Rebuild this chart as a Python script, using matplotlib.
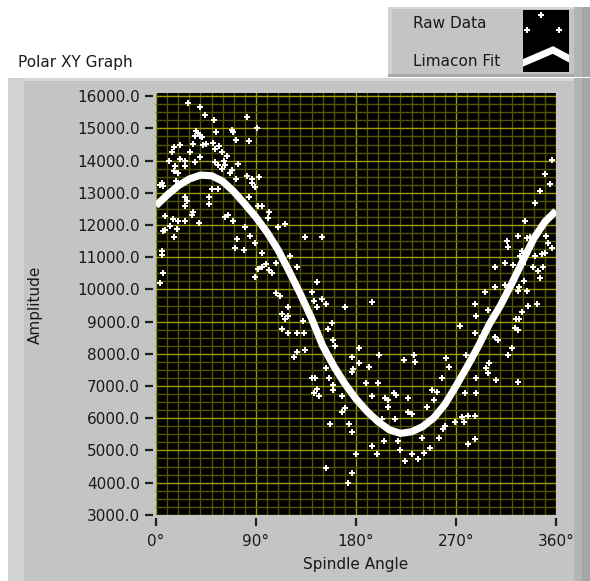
import matplotlib.pyplot as plt
import matplotlib.patches as mpatches
import numpy as np

# raw data (angle in degrees, amplitude)
raw_angle = [29, 40, 44, 52, 82, 91, 54, 68, 69, 36, 38, 40, 41, 35, 33, 42, 45, 51, 53, 57,
             59, 72, 84, 22, 16, 14, 31, 12, 22, 26, 17, 20, 16, 40, 35, 53, 56, 61, 62, 59,
             68, 67, 74, 64, 26, 5, 4, 6, 18, 50, 56, 72, 82, 86, 93, 86, 89, 26, 28, 48,
             48, 26, 33, 32, 77, 84, 92, 95, 102, 101, 65, 62, 69, 8, 15, 20, 26, 39, 13, 8,
             6, 19, 16, 80, 110, 116, 73, 85, 89, 71, 79, 95, 5, 5, 121, 99, 95, 102, 108, 127,
             92, 104, 89, 6, 4, 134, 149,
             356, 350, 355, 346, 341, 332, 326, 334, 337, 316, 317, 351, 353, 356, 329, 328, 341, 347, 350, 314,
             305, 321, 330, 339, 344, 348, 346, 331, 305, 314, 327,
             108, 112, 145, 140, 142, 149, 153, 145, 119, 113, 119, 116, 132, 158, 170, 194, 113, 119, 127, 133,
             155, 159, 161, 134, 127, 124, 183, 176, 201, 183, 192, 177, 176, 153, 156, 140, 143, 159, 159, 145,
             142, 147, 167, 189, 200, 194, 170, 167, 157, 174, 176, 203, 194, 199, 180, 153, 176, 173,
             326, 334, 296, 287, 288, 299, 335, 343, 329, 324, 327, 274, 323, 326, 287, 305, 308, 293, 320, 317,
             279, 300, 297, 299, 306, 326, 288, 284, 261, 264, 257, 232, 233, 223, 248, 253, 250, 244, 214, 216,
             206, 209, 227, 209, 227, 230, 215, 278, 288, 275, 281, 287, 277, 269, 260, 258, 255, 239, 247, 287,
             281, 205, 218, 220, 230, 241, 236, 224]
raw_amp = [15790, 15680, 15420, 15270, 15370, 15000, 14900, 14950, 14880, 14910, 14850, 14770, 14720, 14750, 14510, 14490, 14510, 14550, 14360, 14460,
           14260, 14650, 14600, 14490, 14410, 14260, 14260, 14000, 14050, 14000, 13840, 13630, 13690, 14100, 13950, 13950, 13870, 14000, 13870, 13740,
           13720, 13610, 13910, 14150, 13840, 13320, 13250, 13200, 13380, 13120, 13120, 13430, 13530, 13430, 13500, 13290, 13190, 12860, 12750, 12860,
           12650, 12600, 12390, 12320, 12700, 12860, 12600, 12600, 12390, 12220, 12320, 12240, 12130, 12290, 12190, 12130, 12130, 12060, 11980, 11840,
           11800, 11880, 11620, 11950, 11930, 12030, 11560, 11650, 11430, 11290, 11220, 11120, 11200, 11080, 11030, 10790, 10690, 10610, 10820, 10710,
           10630, 10510, 10400, 10500, 10190, 11620, 11620,
           14020, 13580, 13270, 13070, 12680, 12110, 11650, 11600, 11620, 11490, 11330, 11650, 11430, 11290, 11180, 11030, 11050, 11100, 11120, 10810,
           10710, 10770, 10790, 10690, 10580, 10690, 10350, 10270, 10080, 10150, 10080,
           9880, 9800, 10220, 9910, 9650, 9700, 9540, 9440, 9440, 9250, 9180, 9080, 9030, 8950, 9440, 9600, 8770, 8640, 8640, 8640,
           8770, 8440, 8230, 8130, 8060, 7910, 8180, 7910, 7970, 7710, 7600, 7530, 7450, 7560, 7240, 7240, 7240, 7040, 6870, 6900,
           6770, 6700, 6700, 7080, 7080, 6700, 6310, 6180, 5820, 5820, 5560, 5970, 5150, 4890, 4890, 4450, 4300, 3990,
           9960, 9960, 9910, 9540, 9180, 9360, 9490, 9540, 9290, 9080, 9080, 8870, 8800, 8740, 8660, 8510, 8440, 8540, 8180, 7970,
           7970, 7700, 7550, 7400, 7180, 7140, 7240, 7810, 7870, 7600, 7240, 7960, 7760, 7820, 6870, 6830, 6560, 6340, 6780, 6730,
           6620, 6560, 6620, 6340, 6180, 6130, 5970, 6770, 6770, 6030, 6080, 6080, 5870, 5870, 5770, 5660, 5400, 5400, 5090, 5350,
           5200, 5300, 5300, 5020, 4890, 4920, 4730, 4660]

# limacon fit, read every 10 degrees
fit_angle = list(range(0, 361, 10))
fit_amp = [12600, 12930, 13220, 13430, 13550, 13530, 13360, 13040, 12650, 12240,
           11770, 11220, 10550, 9850, 9100, 8250, 7620, 7070, 6600, 6210,
           5890, 5640, 5530, 5580, 5740, 6010, 6430, 7000, 7600, 8230,
           8920, 9500, 10170, 10880, 11580, 12100, 12440]

W, H = 590, 581
fig = plt.figure(figsize=(W / 100, H / 100), dpi=100)
fig.patch.set_facecolor('white')
plt.rcParams['font.family'] = 'DejaVu Sans'
txt = '#1a1a1a'


def box(x0, y0, x1, y1, color, z=0):
    r = mpatches.Rectangle((x0 / W, 1 - y1 / H), (x1 - x0) / W, (y1 - y0) / H,
                           transform=fig.transFigure, facecolor=color, edgecolor='none', zorder=z)
    fig.add_artist(r)


# graph panel
box(8, 78, 590, 581, '#c4c4c4')
box(8, 78, 590, 81, '#d8d8d8')
box(8, 78, 24, 581, '#d2d2d2')
box(574, 78, 590, 581, '#b4b4b4')
box(582, 78, 590, 581, '#a6a6a6')
# legend panel
box(388, 7, 590, 77, '#c4c4c4')
box(388, 7, 590, 9, '#d8d8d8')
box(388, 7, 392, 77, '#d2d2d2')
box(388, 74, 590, 77, '#a8a8a8')
box(574, 7, 590, 77, '#b4b4b4')
box(582, 7, 590, 77, '#a6a6a6')

fig.text(18 / W, 1 - 63 / H, 'Polar XY Graph', fontsize=11, color=txt, va='center', ha='left')
fig.text(413 / W, 1 - 24 / H, 'Raw Data', fontsize=11, color=txt, va='center', ha='left')
fig.text(413 / W, 1 - 62 / H, 'Limacon Fit', fontsize=11, color=txt, va='center', ha='left')

# legend icons
lx = fig.add_axes([523 / W, 1 - 72 / H, 46 / W, 62 / H])
lx.set_facecolor('black')
lx.set_xlim(0, 46)
lx.set_ylim(62, 0)
lx.plot([18, 4, 36], [5, 20, 20], linestyle='none', marker='+', color='white', ms=4, mew=1.5)
lx.plot([2, 30, 45], [52, 40, 48], color='white', lw=5, solid_joinstyle='miter')
lx.set_xticks([])
lx.set_yticks([])
for s in lx.spines.values():
    s.set_visible(False)

# main plot
ax = fig.add_axes([156 / W, 1 - 515 / H, 400 / W, 422 / H])
ax.set_facecolor('black')
ax.plot(raw_angle, raw_amp, linestyle='none', marker='+', color='white', ms=4, mew=1.4, zorder=3)
ax.plot(fit_angle, fit_amp, color='white', lw=5.2, solid_capstyle='butt', zorder=4)

ax.set_xlim(0, 360)
ax.set_ylim(2995, 16100)
ax.set_xticks(np.arange(0, 361, 90))
ax.set_xticklabels([f'{v}°' for v in range(0, 361, 90)])
ax.set_xticks(np.arange(0, 361, 10), minor=True)
ax.set_yticks(np.arange(3000, 16001, 1000))
ax.set_yticklabels([f'{v:.1f}' for v in range(3000, 16001, 1000)])
ax.set_yticks(np.arange(3000, 16100, 250), minor=True)
ax.grid(which='major', color='#9c9c00', lw=1.0)
ax.grid(which='minor', color='#545400', lw=1.0)
ax.set_axisbelow(True)
ax.tick_params(which='minor', length=0)
ax.tick_params(which='major', direction='out', length=6, width=1.6, color='#202020',
               labelsize=11, labelcolor=txt)
ax.tick_params(axis='y', pad=3)
ax.tick_params(axis='x', pad=5)
for side in ['left', 'bottom']:
    ax.spines[side].set_position(('outward', 2.5))
    ax.spines[side].set_color('none')
for side in ['top', 'right']:
    ax.spines[side].set_visible(False)

fig.text(35 / W, 1 - 305 / H, 'Amplitude', fontsize=11, color=txt, rotation=90, va='center', ha='center')
fig.text(356 / W, 1 - 564 / H, 'Spindle Angle', fontsize=11, color=txt, va='center', ha='center')

plt.savefig('out.png', dpi=100)
